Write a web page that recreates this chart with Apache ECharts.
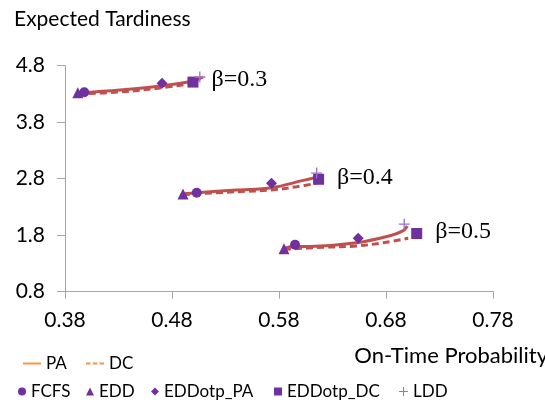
<!DOCTYPE html>
<html>
<head>
<meta charset="utf-8">
<script src="https://cdn.jsdelivr.net/npm/echarts@6/dist/echarts.min.js"></script>
<style>html,body{margin:0;padding:0;background:#fff;overflow:hidden;}#c{width:545px;height:405px;}</style>
</head>
<body>
<div id="c"></div>
<script>
// ---- data ----
const betaLabels = ['β=0.3', 'β=0.4', 'β=0.5'];
const xTickMin = 0.38, xTickMax = 0.78, xTickStep = 0.1;
const yTickMin = 0.8, yTickMax = 4.8, yTickStep = 1;

const fcfs      = [[0.398, 4.33], [0.5031, 2.55], [0.595, 1.63]];
const edd       = [[0.392, 4.32], [0.4903, 2.53], [0.5847, 1.56]];
const eddotpPA  = [[0.4707, 4.49], [0.573, 2.72], [0.654, 1.745]];
const eddotpDC  = [[0.4996, 4.51], [0.617, 2.79], [0.7087, 1.83]];
const ldd       = [[0.506, 4.60], [0.6152, 2.90], [0.697, 1.995]];

const paCurve1 = [[0.392, 4.317], [0.4314, 4.37], [0.4688, 4.44], [0.4996, 4.53], [0.509, 4.60]];
const dcCurve1 = [[0.392, 4.30], [0.4314, 4.335], [0.4688, 4.405], [0.4996, 4.49]];
const paCurve2 = [[0.4903, 2.529], [0.5031, 2.552], [0.5405, 2.60], [0.5732, 2.641], [0.6027, 2.77], [0.6152, 2.825]];
const dcCurve2 = [[0.4903, 2.520], [0.5405, 2.57], [0.5732, 2.60], [0.5965, 2.658], [0.6152, 2.719]];
const paCurve3 = [[0.5847, 1.556], [0.5903, 1.596], [0.609, 1.60], [0.6526, 1.667], [0.6837, 1.791], [0.6962, 1.88], [0.6999, 1.963]];
const dcCurve3 = [[0.5847, 1.550], [0.6211, 1.586], [0.6526, 1.609], [0.6775, 1.667], [0.7008, 1.745]];

// ---- styles ----
const FONT = 'Lato';
const lineRed = '#C0504D';
const legendOrange = '#F79646';
const purple = '#7030A0';
const lightPurple = '#9A73C8';
const plusPath = 'path://M4.4,0h1.2v10h-1.2z M0,4.4h10v1.2h-10z';
const solidIcon = 'path://M0,0h18v2h-18z';
const dashIcon = 'path://M0,0h4.5v2h-4.5z M6.75,0h4.5v2h-4.5z M13.5,0h4.5v2h-4.5z';

const chart = echarts.init(document.getElementById('c'), null, {renderer: 'canvas'});

function curve(name, data, dashed) {
  return {
    name: name, type: 'line', data: data, smooth: 0.35, symbol: 'none',
    lineStyle: {color: lineRed, width: 3, type: dashed ? [7, 4] : 'solid'},
    itemStyle: {color: lineRed}, z: 2, silent: true
  };
}
function pts(name, data, symbol, size, color, extra) {
  return Object.assign({
    name: name, type: 'scatter', data: data, symbol: symbol, symbolSize: size,
    itemStyle: {color: color, opacity: 1}, z: 5
  }, extra || {});
}

const legendText = {fontFamily: FONT, fontSize: 17, color: '#000'};
function leg(name, left, top, w, h, icon) {
  const o = {data: [name], left: left, top: top, itemWidth: w, itemHeight: h, itemGap: 0,
    textStyle: legendText, selectedMode: false, padding: 0};
  if (icon) o.icon = icon;
  return o;
}

chart.setOption({
  animation: false,
  backgroundColor: '#fff',
  title: [{text: 'Expected Tardiness', left: 9, top: 4,
    textStyle: {fontFamily: FONT, fontSize: 21, fontWeight: 'normal', color: '#000'}}],
  grid: {left: 65, right: 52, top: 65.7, bottom: 113.3, containLabel: false, outerBoundsMode: 'none'},
  xAxis: {
    type: 'value', min: xTickMin, max: xTickMax, interval: xTickStep,
    name: 'On-Time Probability', nameLocation: 'end', nameGap: 55,
    nameTextStyle: {fontFamily: FONT, fontSize: 22, color: '#000', align: 'right', verticalAlign: 'top', padding: [53, 0, 0, 0]},
    axisLine: {show: true, lineStyle: {color: '#A6A6A6', width: 1}},
    axisTick: {show: true, inside: false, length: 7, lineStyle: {color: '#A6A6A6'}},
    splitLine: {show: false},
    axisLabel: {fontFamily: FONT, fontSize: 21, color: '#000', margin: 18,
      formatter: v => v.toFixed(2)}
  },
  yAxis: {
    type: 'value', min: yTickMin, max: yTickMax, interval: yTickStep,
    axisLine: {show: true, lineStyle: {color: '#A6A6A6', width: 1}},
    axisTick: {show: true, inside: false, length: 8, lineStyle: {color: '#A6A6A6'}},
    splitLine: {show: false},
    axisLabel: {fontFamily: FONT, fontSize: 21, color: '#000', margin: 20,
      formatter: v => v.toFixed(1)}
  },
  legend: [
    leg('PA', 23, 355, 18, 2, solidIcon),
    leg('DC', 86, 355, 18, 2, dashIcon),
    leg('FCFS', 18, 383, 8, 8),
    leg('EDD', 86, 383, 8, 8),
    leg('EDDotp_PA', 151, 383, 8, 8),
    leg('EDDotp_DC', 274, 383, 8, 8),
    leg('LDD', 399, 383, 9, 9)
  ],
  series: [
    // legend-only entries for the line styles
    {name: 'PA', type: 'line', data: [], symbol: 'none', color: legendOrange,
      itemStyle: {color: legendOrange}, lineStyle: {color: legendOrange, width: 2}},
    {name: 'DC', type: 'line', data: [], symbol: 'none', color: legendOrange,
      itemStyle: {color: legendOrange}, lineStyle: {color: legendOrange, width: 2}},
    curve('PA β=0.3', paCurve1, false),
    curve('DC β=0.3', dcCurve1, true),
    curve('PA β=0.4', paCurve2, false),
    curve('DC β=0.4', dcCurve2, true),
    curve('PA β=0.5', paCurve3, false),
    curve('DC β=0.5', dcCurve3, true),
    pts('FCFS', fcfs, 'circle', 10, purple),
    pts('EDD', edd, 'triangle', 11, purple),
    pts('EDDotp_PA', eddotpPA, 'diamond', 11, purple),
    pts('EDDotp_DC', eddotpDC, 'rect', 11, purple, {
      label: {show: true, position: 'right', distance: 13, offset: [0, -2],
        formatter: p => betaLabels[p.dataIndex],
        fontFamily: 'Liberation Serif', fontSize: 24, color: '#000'}
    }),
    pts('LDD', ldd, plusPath, 11, lightPurple)
  ]
});
</script>
</body>
</html>
